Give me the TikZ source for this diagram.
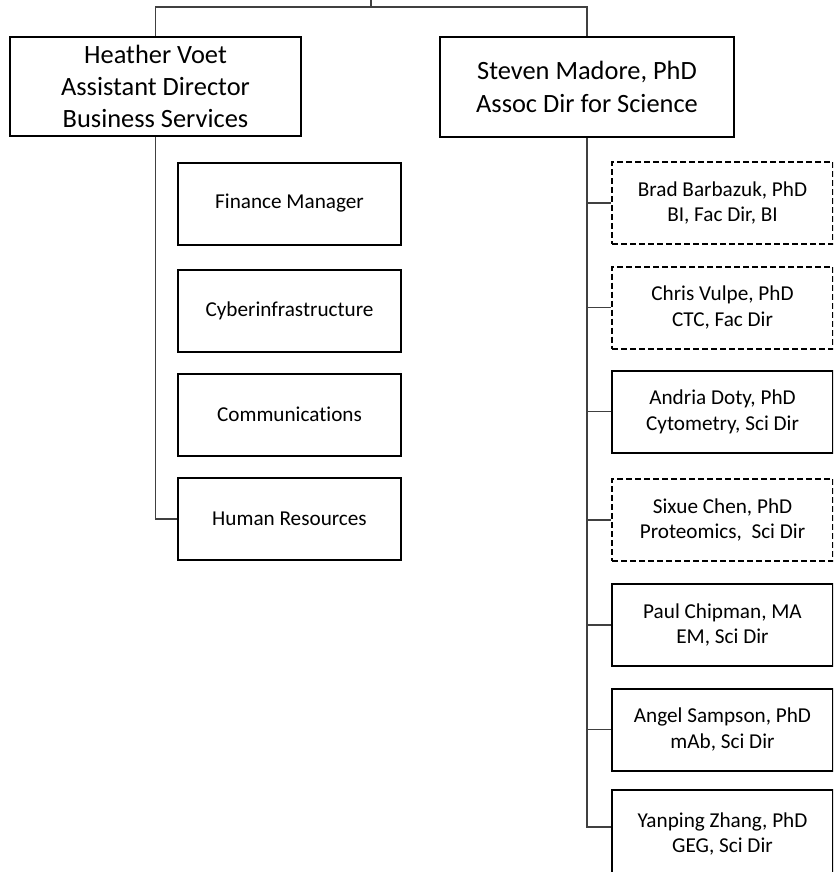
\documentclass[tikz,border=0pt]{standalone}
\usepackage{fontspec}
\setmainfont{Carlito}[Ligatures=NoCommon]
\begin{document}
\begin{tikzpicture}[x=1pt,y=-1pt]
\tikzset{
  link/.style={line width=1.2pt, draw=black!75},
  headbox/.style={draw, line width=2pt, inner sep=0pt, align=center,
    minimum height=99pt, font=\fontsize{26.4}{32.2}\selectfont},
  unitbox/.style={draw, line width=2pt, inner sep=0pt, align=center,
    minimum width=223pt, minimum height=82pt, font=\fontsize{21.2}{25.9}\selectfont},
  sidebox/.style={unitbox, minimum width=221pt},
  vacant/.style={dash pattern=on 6pt off 3pt}
}
\useasboundingbox (0,0) rectangle (833,872);
\clip (0,0) rectangle (833,872);

% top-level heads
\node[headbox, minimum width=291pt] (hv) at (155.5,86.5)
  {Heather Voet\\Assistant Director\\Business Services};
\node[headbox, minimum width=294pt] (sm) at (587,87)
  {Steven Madore, PhD\\Assoc Dir for Science};

% business services units
\node[unitbox] (fin) at (289.5,203.5) {Finance Manager};
\node[unitbox] (cyb) at (289.5,310.5) {Cyberinfrastructure};
\node[unitbox] (com) at (289.5,414.5) {Communications};
\node[unitbox] (hr)  at (289.5,519)   {Human Resources};

% science cores
\node[sidebox, vacant] (brad)   at (722.5,203)   {Brad Barbazuk, PhD\\BI, Fac Dir, BI};
\node[sidebox, vacant] (chris)  at (722.5,307.5) {Chris Vulpe, PhD\\CTC, Fac Dir};
\node[sidebox]         (andria) at (722.5,411.5) {Andria Doty, PhD\\Cytometry, Sci Dir};
\node[sidebox, vacant] (sixue)  at (722.5,520)   {Sixue Chen, PhD\\Proteomics,~ Sci Dir};
\node[sidebox]         (paul)   at (722.5,625)   {Paul Chipman, MA\\EM, Sci Dir};
\node[sidebox]         (angel)  at (722.5,729.5) {Angel Sampson, PhD\\mAb, Sci Dir};
\node[sidebox, minimum height=88pt] (yan) at (722.5,834) {Yanping Zhang, PhD\\GEG, Sci Dir};
\coordinate (yanin) at ([yshift=7pt]yan.west);

% connectors
\coordinate (top) at (371,0);
\coordinate (topj) at (371,7);
\draw[link] (top) -- (topj);
\draw[link] (hv.north) |- (topj) -| (sm.north);
\draw[link] (hv.south) |- (hr.west);
\draw[link] (sm.south) |- (yanin);
\foreach \n in {brad,chris,andria,sixue,paul,angel}
  \draw[link] (sm.south |- \n.west) -- (\n.west);
\end{tikzpicture}
\end{document}
